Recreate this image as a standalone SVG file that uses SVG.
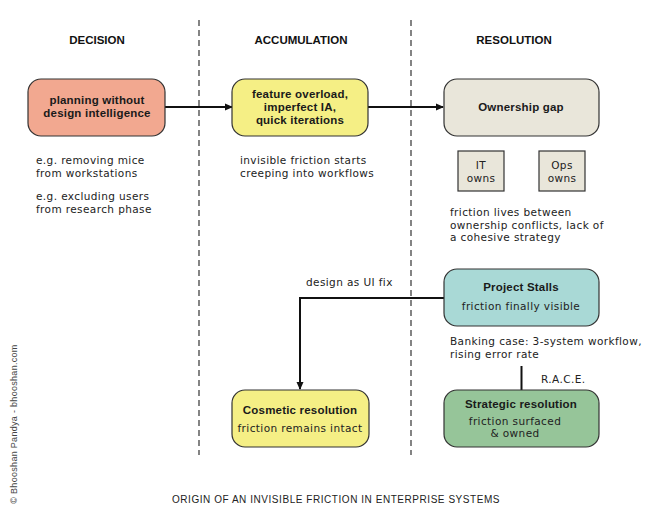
<svg xmlns="http://www.w3.org/2000/svg" width="672" height="520" viewBox="0 0 672 520">
<style>
.h{font-family:"Liberation Sans",Arial,sans-serif;font-weight:bold;font-size:11.5px;fill:#111;text-anchor:middle}
.t{font-family:"DejaVu Sans",sans-serif;font-size:10.5px;letter-spacing:0.4px;fill:#222}
.b{font-family:"Liberation Sans",Arial,sans-serif;font-size:11.5px;font-weight:bold;letter-spacing:0.2px;fill:#1a1a1a;text-anchor:middle}
.c{font-family:"DejaVu Sans",sans-serif;font-size:10.5px;letter-spacing:0.4px;fill:#222;text-anchor:middle}
.n{stroke:#333;stroke-width:1.2}
.div{stroke:#333;stroke-width:1.2;stroke-dasharray:6,4;fill:none}
.ln{stroke:#111;stroke-width:2;fill:none}
</style>
<defs>
<marker id="ah" markerWidth="8" markerHeight="8" refX="7" refY="4" orient="auto" markerUnits="userSpaceOnUse">
<path d="M0,0.5 L8,4 L0,7.5 Z" fill="#111"/>
</marker>
</defs>
<rect width="672" height="520" fill="#fff"/>
<g id="dividers">
<line class="div" x1="199" y1="20" x2="199" y2="455"/>
<line class="div" x1="411" y1="20" x2="411" y2="455"/>
</g>
<g id="headings">
<text class="h" x="97" y="44">DECISION</text>
<text class="h" x="301" y="44">ACCUMULATION</text>
<text class="h" x="514" y="44">RESOLUTION</text>
</g>
<g id="connectors">
<line class="ln" x1="165" y1="107" x2="232" y2="107" marker-end="url(#ah)"/>
<line class="ln" x1="368" y1="107" x2="443" y2="107" marker-end="url(#ah)"/>
<polyline class="ln" points="444,298 300,298 300,389" marker-end="url(#ah)"/>
<line class="ln" x1="521.5" y1="366" x2="521.5" y2="390"/>
<text class="t" x="306" y="286">design as UI fix</text>
<text class="t" x="541" y="383">R.A.C.E.</text>
</g>
<g id="n-planning">
<rect class="n" x="28" y="79" width="137" height="57" rx="13" fill="#f2a890"/>
<text class="b" x="97" y="104">planning without</text>
<text class="b" x="97" y="117">design intelligence</text>
</g>
<g id="n-feature">
<rect class="n" x="232" y="79" width="136" height="57" rx="13" fill="#f5ef85"/>
<text class="b" x="300" y="98">feature overload,</text>
<text class="b" x="300" y="111">imperfect IA,</text>
<text class="b" x="300" y="124">quick iterations</text>
</g>
<g id="n-ownership">
<rect class="n" x="444" y="79" width="155" height="57" rx="13" fill="#e9e6da"/>
<text class="b" x="521" y="111">Ownership gap</text>
</g>
<g id="n-it">
<rect class="n" x="458" y="151" width="46" height="40" fill="#e9e6da"/>
<text class="c" x="481" y="169">IT</text>
<text class="c" x="481" y="182">owns</text>
</g>
<g id="n-ops">
<rect class="n" x="539" y="151" width="46" height="40" fill="#e9e6da"/>
<text class="c" x="562" y="169">Ops</text>
<text class="c" x="562" y="182">owns</text>
</g>
<g id="notes">
<text class="t" x="36" y="164">e.g. removing mice</text>
<text class="t" x="36" y="176.5">from workstations</text>
<text class="t" x="36" y="200">e.g. excluding users</text>
<text class="t" x="36" y="212.5">from research phase</text>
<text class="t" x="240" y="164">invisible friction starts</text>
<text class="t" x="240" y="176.5">creeping into workflows</text>
<text class="t" x="450" y="216">friction lives between</text>
<text class="t" x="450" y="228.5">ownership conflicts, lack of</text>
<text class="t" x="450" y="241">a cohesive strategy</text>
<text class="t" x="450" y="345">Banking case: 3-system workflow,</text>
<text class="t" x="450" y="357.5">rising error rate</text>
</g>
<g id="n-stalls">
<rect class="n" x="444" y="269" width="155" height="57" rx="13" fill="#a9d9d6"/>
<text class="b" x="521" y="291">Project Stalls</text>
<text class="c" x="521" y="310">friction finally visible</text>
</g>
<g id="n-cosmetic">
<rect class="n" x="232" y="390" width="137" height="57" rx="13" fill="#f5ef85"/>
<text class="b" x="300" y="414">Cosmetic resolution</text>
<text class="c" x="300" y="432">friction remains intact</text>
</g>
<g id="n-strategic">
<rect class="n" x="444" y="390" width="155" height="57" rx="13" fill="#96c599"/>
<text class="b" x="521" y="408">Strategic resolution</text>
<text class="c" x="515" y="424.5">friction surfaced</text>
<text class="c" x="515" y="437">&amp; owned</text>
</g>
<text font-family="'Liberation Sans',Arial,sans-serif" font-size="9" letter-spacing="0.3" fill="#444" text-anchor="middle" transform="translate(17,424) rotate(-90)">© Bhooshan Pandya - bhooshan.com</text>
<text font-family="'Liberation Sans',Arial,sans-serif" font-size="10" fill="#222" text-anchor="middle" x="336" y="503" letter-spacing="0.55">ORIGIN OF AN INVISIBLE FRICTION IN ENTERPRISE SYSTEMS</text>
</svg>
